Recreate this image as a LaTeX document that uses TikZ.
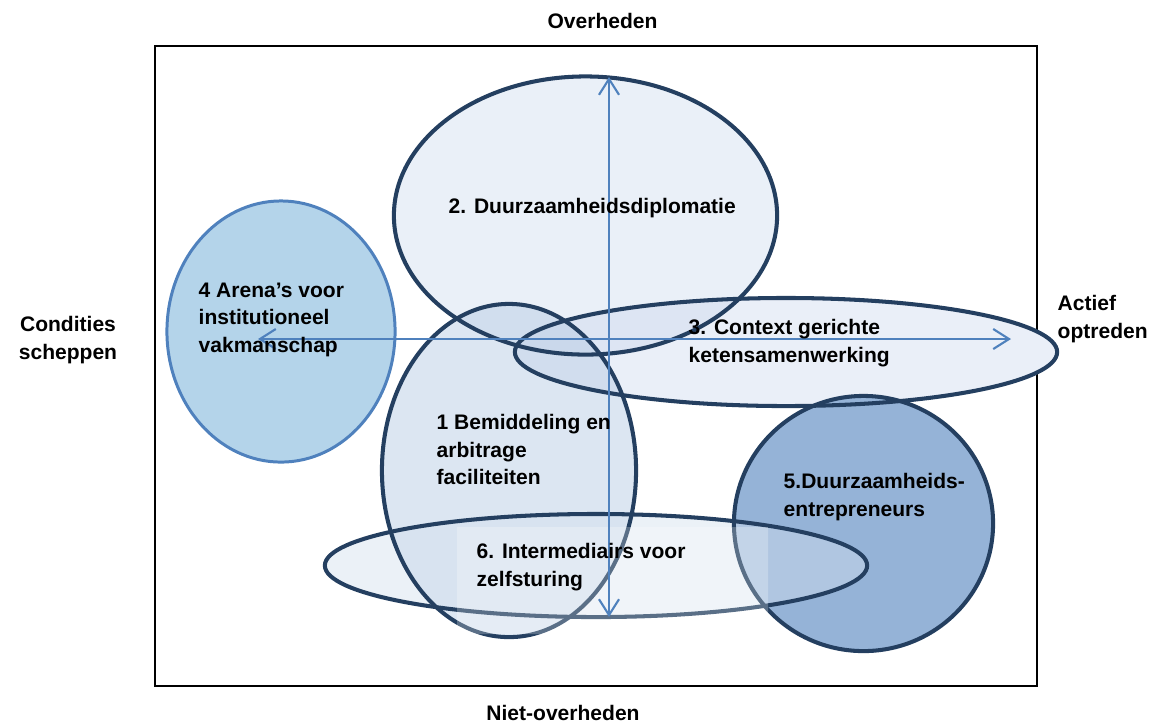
\documentclass[tikz,border=0pt]{standalone}
\usepackage{fontspec}
\setmainfont{Liberation Sans}
\usetikzlibrary{shapes.geometric,arrows.meta}
\definecolor{navy}{HTML}{243F60}
\definecolor{axisblue}{HTML}{4F81BD}
\definecolor{fillA}{HTML}{EAF0F8}
\definecolor{fillB}{HTML}{B4D4EA}
\definecolor{fillC}{HTML}{C8D5ED}
\definecolor{fillD}{HTML}{B9CDE5}
\definecolor{fillE}{HTML}{95B3D7}
\definecolor{fillF}{HTML}{D3DFEE}
\tikzset{
  oval/.style={ellipse, inner sep=0pt, draw=navy, line width=1.15pt},
  ovalfill/.style={ellipse, inner sep=0pt, draw=none},
  lbl/.style={font=\bfseries\fontsize{5.98pt}{7.82pt}\selectfont, inner sep=0pt, anchor=north west, align=left, text=black},
  axis/.style={draw=axisblue, line width=0.6pt, {Straight Barb[length=4.5pt,width=5.7pt]}-{Straight Barb[length=4.5pt,width=5.7pt]}}
}
\begin{document}
\begin{tikzpicture}[x=0.01cm,y=-0.01cm]
\useasboundingbox (0,0) rectangle (1164,726);
% frame
\draw[line width=0.45pt, black] (155,46) rectangle (1037,686);
% underlay of ellipse 3 (hides frame line)
\node[ovalfill, fill=white, minimum width=5.42cm, minimum height=1.08cm] (e3u) at (786,352) {};
% ellipse 4
\node[ellipse, inner sep=0pt, draw=axisblue, line width=0.85pt, fill=fillB, minimum width=2.28cm, minimum height=2.61cm] (e4) at (281,331.5) {};
% fills
\node[ovalfill, fill=fillA, minimum width=3.83cm, minimum height=2.78cm] (e2f) at (585.5,215.5) {};
\begin{scope}[transparency group, opacity=0.38]
\node[ovalfill, fill=fillC, minimum width=5.42cm, minimum height=1.08cm] (e3f) at (786,352) {};
\end{scope}
\begin{scope}[transparency group, opacity=0.5]
\node[ovalfill, fill=fillD, minimum width=2.54cm, minimum height=3.33cm] (e1f) at (509,470.5) {};
\end{scope}
\node[ovalfill, fill=fillE, minimum width=2.59cm, minimum height=2.55cm] (e5f) at (863.5,523.5) {};
\begin{scope}[transparency group, opacity=0.45]
\node[ovalfill, fill=fillF, minimum width=5.42cm, minimum height=1.03cm] (e6f) at (596,565.5) {};
\end{scope}
% borders
\node[oval, minimum width=3.83cm, minimum height=2.78cm] (e2) at (585.5,215.5) {};
\node[oval, minimum width=5.42cm, minimum height=1.08cm] (e3) at (786,352) {};
\node[oval, minimum width=2.54cm, minimum height=3.33cm] (e1) at (509,470.5) {};
\node[oval, minimum width=2.59cm, minimum height=2.55cm] (e5) at (863.5,523.5) {};
\node[oval, minimum width=5.42cm, minimum height=1.03cm] (e6) at (596,565.5) {};
% text box of label 6
\begin{scope}[transparency group, opacity=0.25]
\fill[white] (457,527) rectangle (768,634);
\end{scope}
% axes
\coordinate (top) at (609,77);
\coordinate (bottom) at (609,617);
\coordinate (left) at (258,339);
\coordinate (right) at (1011,339);
\draw[axis] (top) -- (bottom);
\draw[axis] (left) -- (right);
% labels
\node[lbl, anchor=north] (tOver) at (602.5,13) {Overheden};
\node[lbl, anchor=north] (tNiet) at (563,705) {Niet-overheden};
\node[lbl, anchor=north, align=center] (tCond) at (68,316) {Condities\\scheppen};
\node[lbl] (tAct) at (1057,295) {Actief\\optreden};
\node[lbl] (t2) at (448,198) {2. Duurzaamheidsdiplomatie};
\node[lbl] (t4) at (198,282) {4 Arena’s voor\\institutioneel\\vakmanschap};
\node[lbl] (t3) at (688,319) {3. Context gerichte\\ketensamenwerking};
\node[lbl] (t1) at (436,414) {1 Bemiddeling en\\arbitrage\\faciliteiten};
\node[lbl] (t5) at (783,473) {5.Duurzaamheids-\\entrepreneurs};
\node[lbl] (t6) at (476,543) {6. Intermediairs voor\\zelfsturing};
\end{tikzpicture}
\end{document}
